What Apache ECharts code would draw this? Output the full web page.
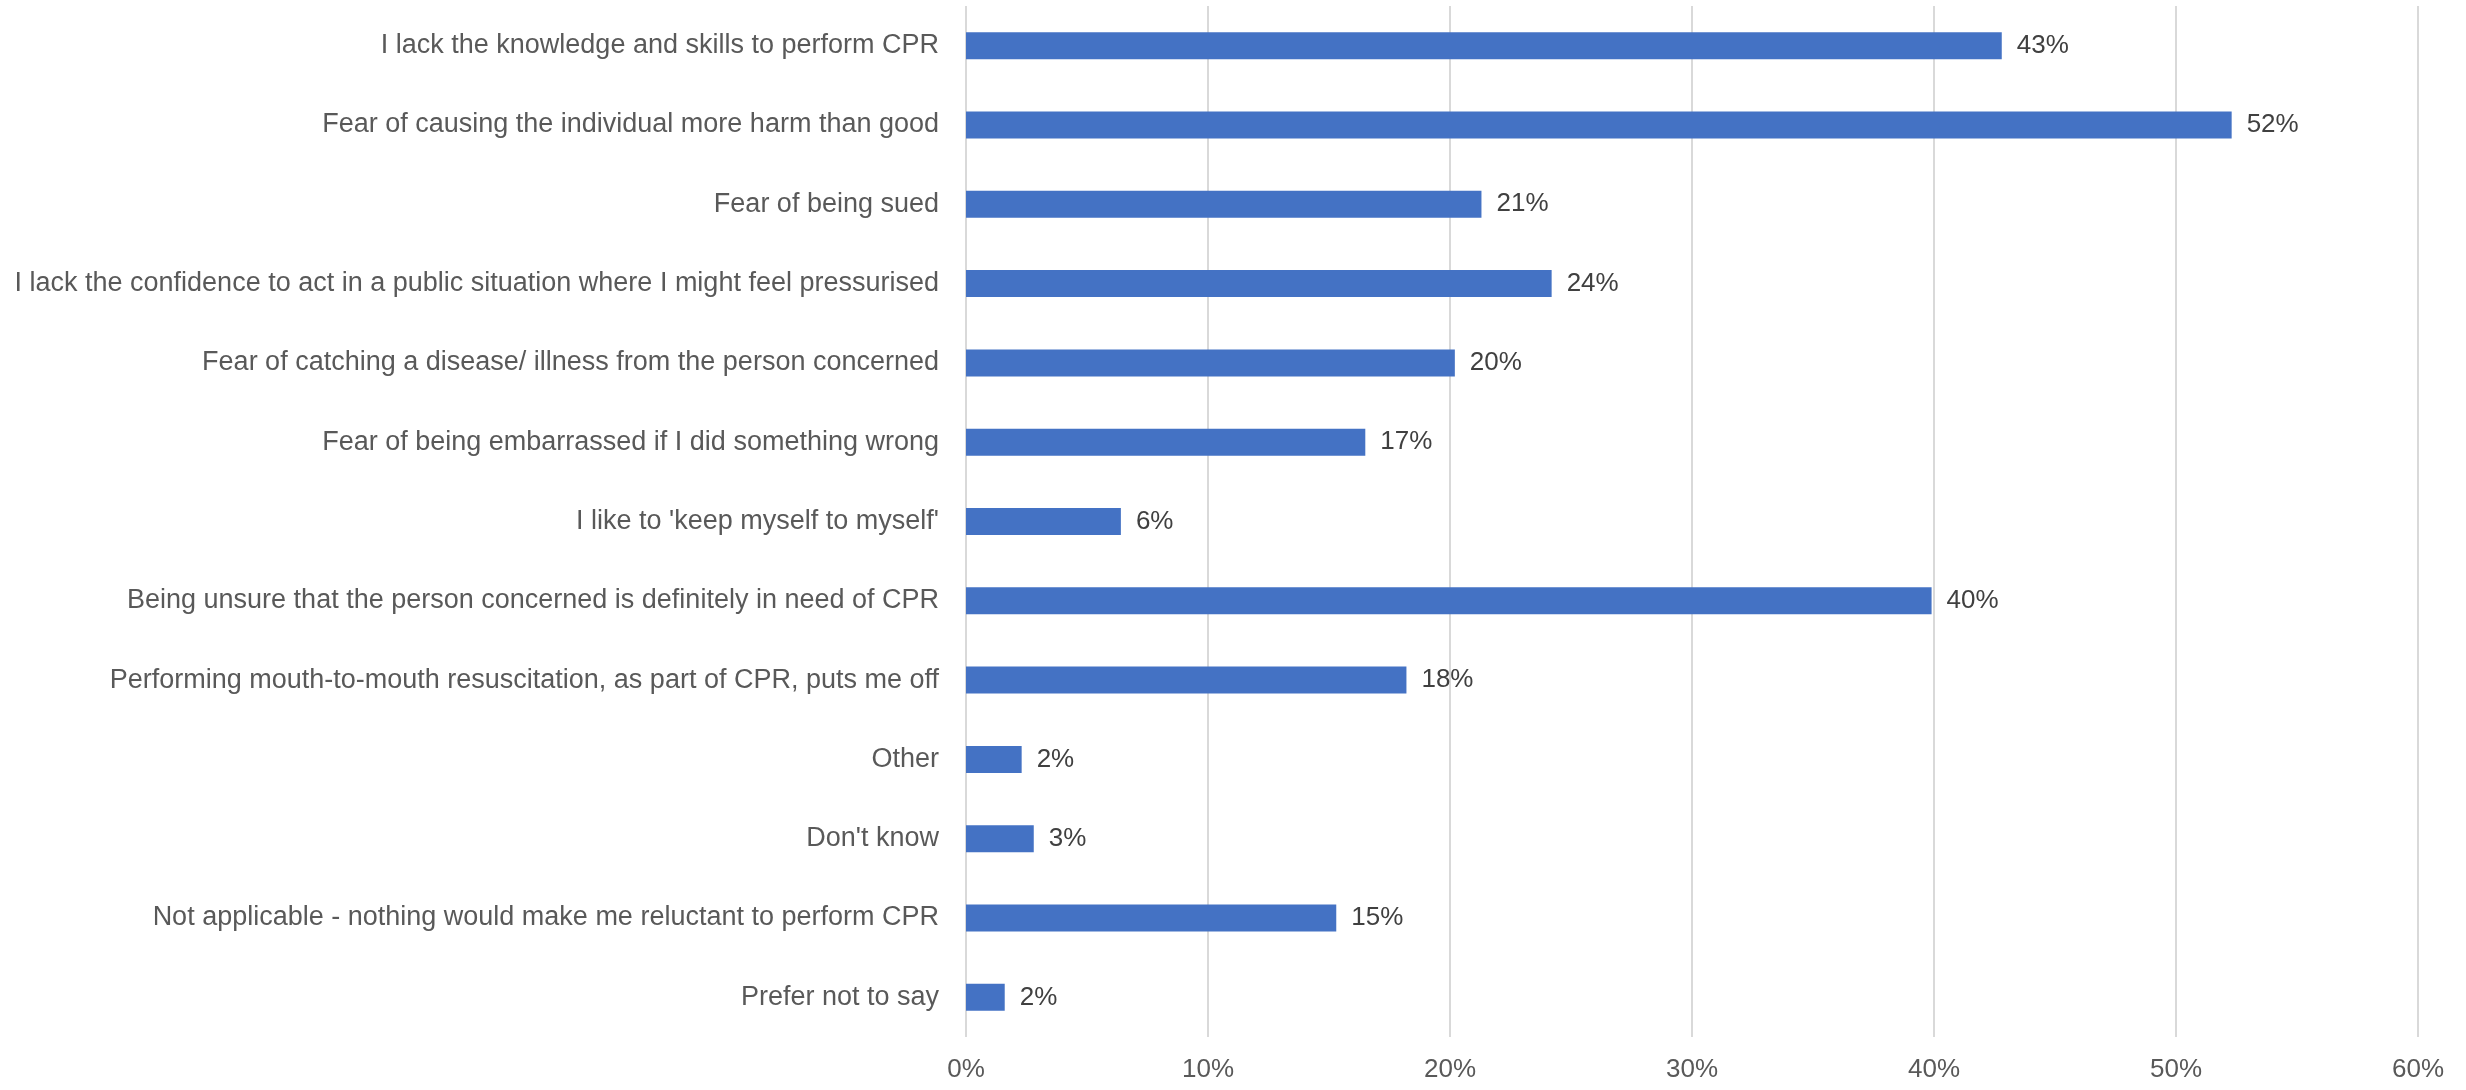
<!DOCTYPE html>
<html>
<head>
<meta charset="utf-8">
<script src="https://cdn.jsdelivr.net/npm/echarts@6/dist/echarts.min.js"></script>
<style>
html,body{margin:0;padding:0;background:#fff;}
#chart{width:2466px;height:1090px;}
</style>
</head>
<body>
<div id="chart"></div>
<script>
const categories = [
  "I lack the knowledge and skills to perform CPR",
  "Fear of causing the individual more harm than good",
  "Fear of being sued",
  "I lack the confidence to act in a public situation where I might feel pressurised",
  "Fear of catching a disease/ illness from the person concerned",
  "Fear of being embarrassed if I did something wrong",
  "I like to 'keep myself to myself'",
  "Being unsure that the person concerned is definitely in need of CPR",
  "Performing mouth-to-mouth resuscitation, as part of CPR, puts me off",
  "Other",
  "Don't know",
  "Not applicable - nothing would make me reluctant to perform CPR",
  "Prefer not to say"
];
const values = [42.8, 52.3, 21.3, 24.2, 20.2, 16.5, 6.4, 39.9, 18.2, 2.3, 2.8, 15.3, 1.6];
const xTicks = { min: 0, max: 60, interval: 10 };

const chart = echarts.init(document.getElementById('chart'));
const font = 'Liberation Sans, Arial, sans-serif';
chart.setOption({
  animation: false,
  backgroundColor: '#ffffff',
  grid: { left: 966, right: 48, top: 6, bottom: 53, containLabel: false },
  xAxis: {
    type: 'value',
    min: xTicks.min, max: xTicks.max, interval: xTicks.interval,
    axisLine: { show: false },
    axisTick: { show: false },
    splitLine: { show: true, lineStyle: { color: '#d9d9d9', width: 2 } },
    axisLabel: { formatter: '{value}%', color: '#595959', fontSize: 26, fontFamily: font, margin: 20 }
  },
  yAxis: {
    type: 'category',
    data: categories,
    inverse: true,
    axisLine: { show: false },
    axisTick: { show: false },
    axisLabel: { color: '#595959', fontSize: 27, fontFamily: font, margin: 27 }
  },
  series: [{
    type: 'bar',
    data: values,
    barWidth: 27,
    itemStyle: { color: '#4472C4' },
    label: {
      show: true, position: 'right', distance: 15,
      color: '#404040', fontSize: 26, fontFamily: font,
      formatter: p => Math.round(p.value) + '%'
    }
  }]
});
</script>
</body>
</html>
